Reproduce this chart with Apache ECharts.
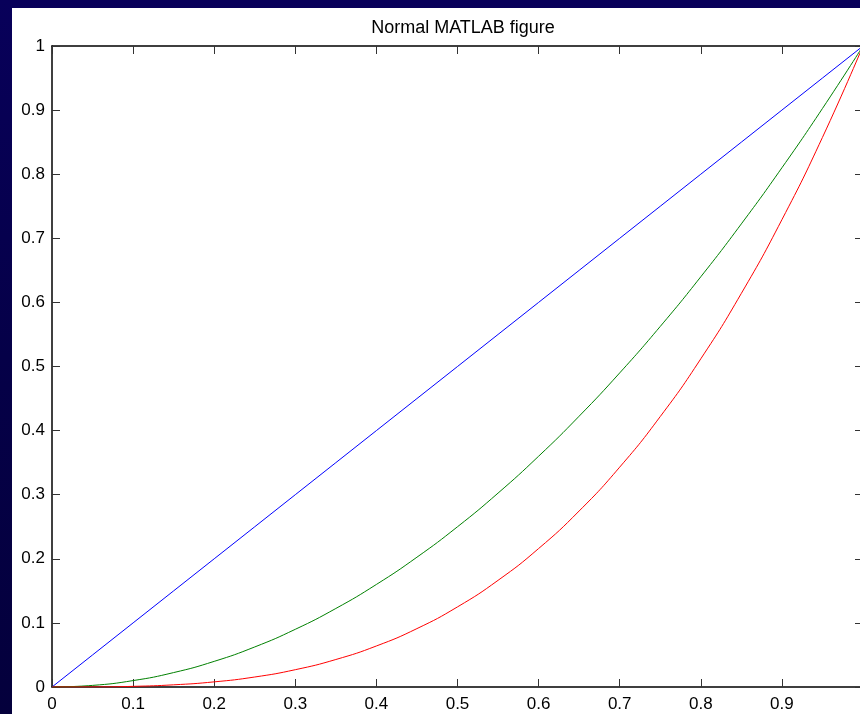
<!DOCTYPE html>
<html>
<head>
<meta charset="utf-8">
<script src="https://cdn.jsdelivr.net/npm/echarts@6/dist/echarts.min.js"></script>
<style>
  html, body { margin: 0; padding: 0; width: 860px; height: 714px; overflow: hidden; }
  body { background: linear-gradient(#08005a, #050048 50%, #04003c); position: relative; }
  #main { position: absolute; left: 12px; top: 8px; width: 854px; height: 706px; background: #fff; }
</style>
</head>
<body>
<div id="main"></div>
<script>
// values
var xs = [0, 0.05, 0.1, 0.15, 0.2, 0.25, 0.3, 0.35, 0.4, 0.45, 0.5, 0.55, 0.6, 0.65, 0.7, 0.75, 0.8, 0.85, 0.9, 0.95, 1];
var blueY = [0, 0.05, 0.1, 0.15, 0.2, 0.25, 0.3, 0.35, 0.4, 0.45, 0.5, 0.55, 0.6, 0.65, 0.7, 0.75, 0.8, 0.85, 0.9, 0.95, 1];
var greenY = [0, 0.0025, 0.01, 0.0225, 0.04, 0.0625, 0.09, 0.1225, 0.16, 0.2025, 0.25, 0.3025, 0.36, 0.4225, 0.49, 0.5625, 0.64, 0.7225, 0.81, 0.9025, 1];
var redY = [0, 0.0001, 0.001, 0.0034, 0.008, 0.0156, 0.027, 0.0429, 0.064, 0.0911, 0.125, 0.1664, 0.216, 0.2746, 0.343, 0.4219, 0.512, 0.6141, 0.729, 0.8574, 1];

function pairs(ys) {
  return xs.map(function (x, i) { return [x, ys[i]] })
}

var chart = echarts.init(document.getElementById('main'), null, { renderer: 'canvas' })

var font = 'Liberation Sans, Arial, Helvetica, sans-serif'
// MATLAB style box: all four sides, ticks pointing in
var axisBase = {
  type: 'value',
  min: 0,
  max: 1,
  interval: 0.1,
  splitLine: { show: false },
  axisLine: { show: true, onZero: false, lineStyle: { color: '#000', width: 1.5 } },
  axisTick: { show: true, inside: true, length: 8, lineStyle: { color: '#333', width: 1 } }
}

chart.setOption({
  animation: false,
  title: {
    text: 'Normal MATLAB figure',
    left: 446,
    top: 6,
    textAlign: 'center',
    textStyle: { fontFamily: font, fontSize: 18, fontWeight: 'normal', color: '#000' }
  },
  grid: { left: 40, top: 38, right: 2, bottom: 27, containLabel: false },
  xAxis: [
    Object.assign({}, axisBase, {
      position: 'bottom',
      axisLabel: {
        fontFamily: font, fontSize: 17, color: '#000', margin: 9,
        formatter: function (v) { return v === 1 ? '' : String(+v.toFixed(1)) }
      }
    }),
    Object.assign({}, axisBase, { position: 'top', axisLabel: { show: false } })
  ],
  yAxis: [
    Object.assign({}, axisBase, {
      position: 'left',
      axisLabel: {
        fontFamily: font, fontSize: 17, color: '#000', margin: 7,
        formatter: function (v) { return String(+v.toFixed(1)) }
      }
    }),
    Object.assign({}, axisBase, { position: 'right', axisLabel: { show: false } })
  ],
  series: [
    { type: 'line', data: pairs(blueY), showSymbol: false, smooth: false, lineStyle: { color: '#0000ff', width: 1 } },
    { type: 'line', data: pairs(greenY), showSymbol: false, smooth: true, lineStyle: { color: '#008000', width: 1 } },
    { type: 'line', data: pairs(redY), showSymbol: false, smooth: true, lineStyle: { color: '#ff0000', width: 1 } }
  ]
})
</script>
</body>
</html>
